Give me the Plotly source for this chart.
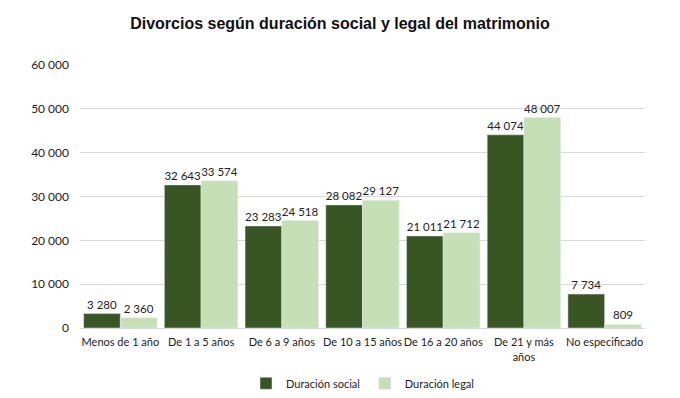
import plotly.graph_objects as go

categories = ["Menos de 1 año", "De 1 a 5 años", "De 6 a 9 años", "De 10 a 15 años",
              "De 16 a 20 años", "De 21 y más<br>años", "No especificado"]
social = [3280, 32643, 23283, 28082, 21011, 44074, 7734]
legal = [2360, 33574, 24518, 29127, 21712, 48007, 809]
tick_vals = [0, 10000, 20000, 30000, 40000, 50000, 60000]
tick_text = ["0", "10 000", "20 000", "30 000", "40 000", "50 000", "60 000"]

def fmt(v):
    return f"{v:,}".replace(",", " ")

fig = go.Figure()
fig.add_trace(go.Bar(x=categories, y=social, name="Duración social",
                     marker=dict(color="#375623"),
                     text=[fmt(v) for v in social], textposition="outside",
                     textfont=dict(size=11.5, color="#222222"), cliponaxis=False))
fig.add_trace(go.Bar(x=categories, y=legal, name="Duración legal",
                     marker=dict(color="#C5E0B4"),
                     text=[fmt(v) for v in legal], textposition="outside",
                     textfont=dict(size=11.5, color="#222222"), cliponaxis=False))

fig.update_layout(
    width=680, height=398,
    paper_bgcolor="white", plot_bgcolor="white",
    font=dict(family="Lato, Liberation Sans, Arial, sans-serif", size=12, color="#222222"),
    title=dict(text="<b>Divorcios según duración social y legal del matrimonio</b>",
               x=0.5, xanchor="center", y=0.94, yanchor="middle",
               font=dict(family="Liberation Sans, Arial, sans-serif", size=16, color="#111111")),
    barmode="group", bargap=0.09, bargroupgap=0,
    margin=dict(l=80, r=35, t=65, b=70, autoexpand=False),
    legend=dict(orientation="h", x=0.5, xanchor="center", y=-0.155, yanchor="top",
                font=dict(size=11), itemwidth=30),
    xaxis=dict(showline=True, linecolor="#d9d9d9", ticks="", tickangle=0,
               tickfont=dict(size=11), automargin=False, ticklabelstandoff=4),
    yaxis=dict(range=[0, 60000], tickvals=tick_vals, ticktext=tick_text,
               gridcolor="#d9d9d9", zeroline=False, ticks="", ticklabelstandoff=10,
               tickfont=dict(size=12), automargin=False),
)
fig.write_html("out.html", config={"displayModeBar": False},
               post_script="document.body.style.margin='0';")
